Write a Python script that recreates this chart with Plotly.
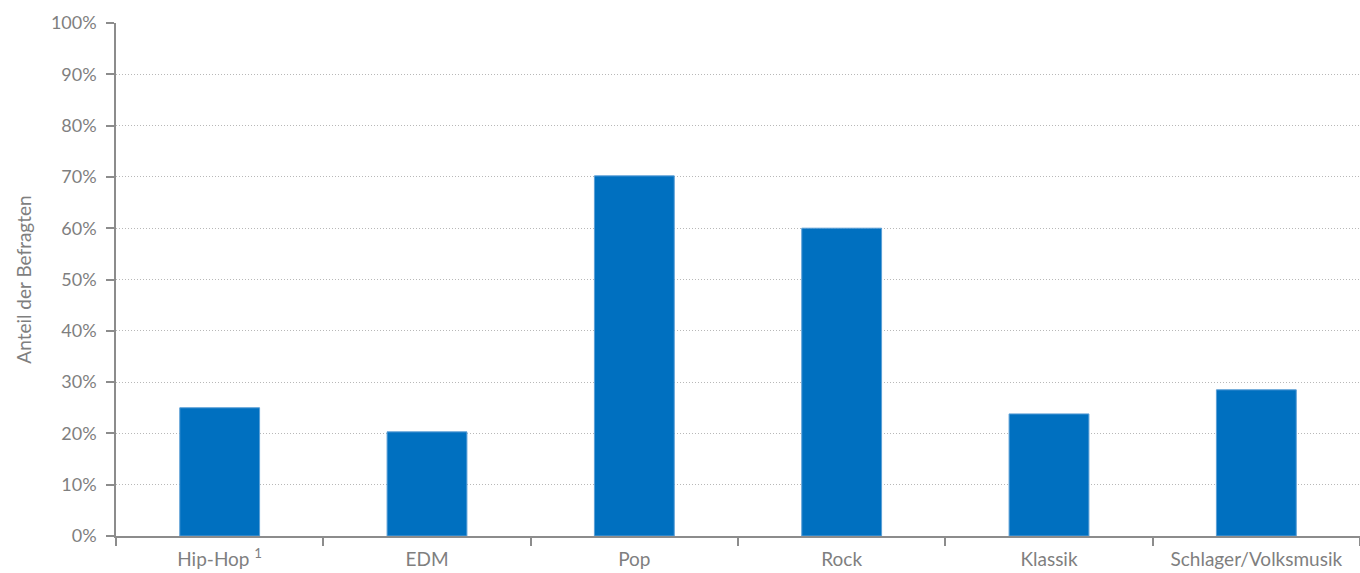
import plotly.graph_objects as go

categories = ["Hip-Hop <sup>1</sup>", "EDM", "Pop", "Rock", "Klassik", "Schlager/Volksmusik"]
values = [25.0, 20.3, 70.2, 60.0, 23.8, 28.5]
y_ticks = [0, 10, 20, 30, 40, 50, 60, 70, 80, 90, 100]
y_tick_labels = [f"{v}%" for v in y_ticks]

grey = "#7f7f7f"
font = "Lato, 'Open Sans', sans-serif"

fig = go.Figure(go.Bar(
    x=categories, y=values,
    marker=dict(color="#0070c0", line=dict(color="#5b9fd6", width=1)),
    hoverinfo="skip",
))

fig.update_layout(
    width=1360, height=573,
    margin=dict(l=116, r=0, t=23, b=37),
    plot_bgcolor="white", paper_bgcolor="white",
    bargap=0.615,
    showlegend=False,
    font=dict(family=font, size=18, color=grey),
)
fig.update_xaxes(
    type="category", automargin=False,
    showline=True, linecolor="#8c8c8c", linewidth=1.5,
    ticks="outside", ticklen=8, tickcolor="#8c8c8c", tickwidth=1.5,
    tickson="boundaries", showgrid=False,
    tickfont=dict(family=font, size=19, color=grey),
    ticklabelstandoff=5,
)
fig.update_yaxes(
    range=[0, 100], automargin=False,
    tickvals=y_ticks, ticktext=y_tick_labels,
    showline=True, linecolor="#8c8c8c", linewidth=1.5,
    ticks="outside", ticklen=8, tickcolor="#8c8c8c", tickwidth=1.5,
    showgrid=True, gridcolor="#b8b8b8", griddash="1px,2px", gridwidth=1,
    zeroline=False,
    tickfont=dict(family=font, size=18, color=grey),
    ticklabelstandoff=6,
    title=dict(text="Anteil der Befragten", font=dict(family=font, size=19, color=grey), standoff=14),
)

fig.write_html("out.html")
